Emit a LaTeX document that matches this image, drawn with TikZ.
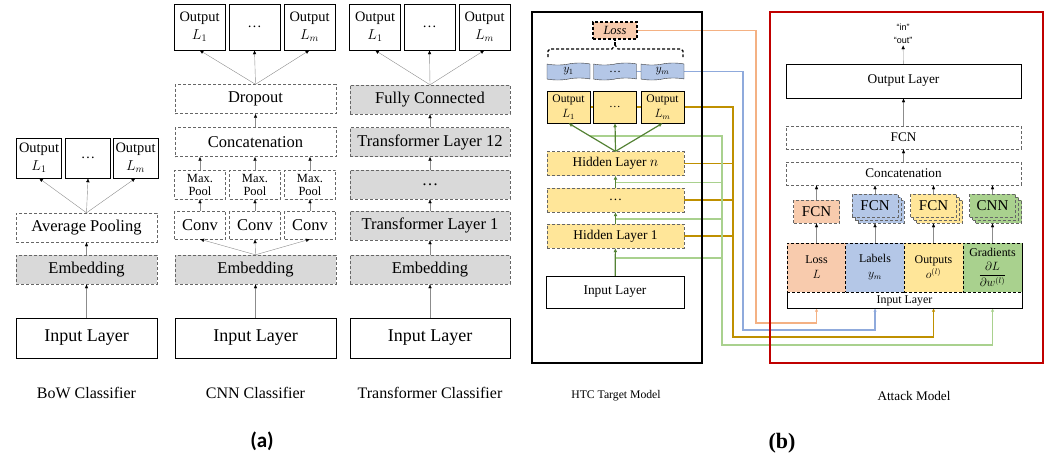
\documentclass[tikz,border=0pt]{standalone}
\usepackage{amsmath}
\usepackage{fontspec}
\setmainfont{Liberation Serif}
\setsansfont{Liberation Sans}
\newfontfamily\capfont{Carlito}
\usepackage{tikz}
\usetikzlibrary{positioning, arrows.meta, shapes.symbols, shadows, backgrounds}

\definecolor{lossbg}{HTML}{F8CBAD}
\definecolor{losscol}{HTML}{F4B183}
\definecolor{labbg}{HTML}{B4C7E7}
\definecolor{labcol}{HTML}{8FAADC}
\definecolor{outbg}{HTML}{FFE699}
\definecolor{outcol}{HTML}{BF9000}
\definecolor{gradbg}{HTML}{A9D18E}
\definecolor{gradcol}{HTML}{A9D18E}
\definecolor{fwdgreen}{HTML}{548235}
\definecolor{layergray}{HTML}{D9D9D9}
\definecolor{attred}{HTML}{C00000}

\tikzstyle{layer} = [rectangle, draw=black, fill=white, inner sep=1pt, align=center, font=\fontsize{16.5}{19}\selectfont]
\tikzstyle{dlayer} = [layer, draw=black!60, densely dashed]
\tikzstyle{glayer} = [dlayer, fill=layergray]
\tikzstyle{inlayer} = [layer, font=\fontsize{18}{20}\selectfont, minimum height=40pt]
\tikzstyle{outbox} = [layer, font=\fontsize{14.4}{18}\selectfont]
\tikzstyle{caption} = [font=\fontsize{16}{18}\selectfont]
\tikzstyle{bowsize} = [minimum width=141pt, minimum height=29pt]
\tikzstyle{bowoutsize} = [minimum width=45pt, minimum height=40pt]
\tikzstyle{cnnsize} = [minimum width=161pt, minimum height=29pt]
\tikzstyle{trsize} = [minimum width=160pt, minimum height=29pt]
\tikzstyle{coloutsize} = [minimum width=51pt, minimum height=46pt]
\tikzstyle{cnnsmall} = [minimum width=51pt, minimum height=28pt]
\tikzstyle{ybox} = [tape, tape bend top=in and out, tape bend bottom=in and out, tape bend height=2pt, draw=black!80, fill=labbg, minimum width=43pt, minimum height=17pt, inner sep=0pt, font=\fontsize{12}{14}\selectfont]
\tikzstyle{htcoutbox} = [layer, fill=outbg, minimum width=43pt, minimum height=32pt, font=\fontsize{11.6}{15}\selectfont]
\tikzstyle{hlayer} = [dlayer, fill=outbg, minimum width=137pt, minimum height=24pt, font=\fontsize{13.4}{15}\selectfont]
\tikzstyle{attlayer} = [dlayer, minimum width=235pt, minimum height=23pt, font=\fontsize{13.2}{15}\selectfont]
\tikzstyle{smallbox} = [dlayer, minimum width=46pt, minimum height=23pt, font=\fontsize{15}{17}\selectfont]
\tikzstyle{cell} = [rectangle, draw=black, densely dashed, line width=0.8pt, minimum width=59pt, minimum height=49pt, inner sep=0pt, align=center, font=\fontsize{11.9}{15}\selectfont]
\tikzstyle{arrow} = [draw=black!45, ->, >={Latex[length=4pt, width=3.5pt, color=black]}]
\tikzstyle{fwd} = [draw=fwdgreen, line width=1.2pt, ->, >={Latex[length=4pt, width=4pt]}]
\tikzstyle{tap} = [line width=1.7pt]
\tikzstyle{feed} = [tap, ->, >={Latex[length=3.5pt, width=3.5pt]}]
\tikzset{stackbox/.style={smallbox, fill=#1, double copy shadow={shadow xshift=3pt, shadow yshift=-3pt, fill=#1, draw=black!60, densely dashed}}}

\begin{document}
\begin{tikzpicture}[x=1pt, y=-1pt]
\useasboundingbox (0,0) rectangle (1048,459);

% BoW classifier
\node (bowout1) [outbox, bowoutsize] at (39,158) {Output\\$L_1$};
\node (bowout2) [outbox, bowoutsize] at (88,158) {\dots};
\node (bowout3) [outbox, bowoutsize] at (135.5,158) {Output\\$L_m$};
\node (bowpool) [dlayer, bowsize] at (86.5,227.5) {Average Pooling};
\node (bowemb) [glayer, bowsize] at (86.5,269.5) {Embedding};
\node (bowin) [inlayer, bowsize, minimum height=40pt] at (86.5,338) {Input Layer};
\node (bowcap) [caption] at (86.5,393) {BoW Classifier};

\draw [arrow] (bowin) -- (bowemb);
\draw [arrow] (bowemb) -- (bowpool);
\foreach \i in {1,2,3}
  \draw [arrow] (bowpool.north) -- (bowout\i.south);

% CNN classifier
\node (cnnout1) [outbox, coloutsize] at (199.5,27) {Output\\$L_1$};
\node (cnnout2) [outbox, coloutsize] at (254.5,27) {\dots};
\node (cnnout3) [outbox, coloutsize] at (309.5,27) {Output\\$L_m$};
\node (cnndrop) [dlayer, cnnsize] at (255.5,99) {Dropout};
\node (cnncat) [dlayer, cnnsize] at (255.5,142) {Concatenation};
\foreach \i/\x in {1/200,2/255,3/310} {
  \node (cnnpool\i) [dlayer, cnnsmall, minimum height=29pt, font=\fontsize{12.5}{13}\selectfont] at (\x,184.5) {Max.\\Pool};
  \node (cnnconv\i) [dlayer, cnnsmall] at (\x,225) {Conv};
}
\node (cnnemb) [glayer, cnnsize] at (255.5,269.5) {Embedding};
\node (cnnin) [inlayer, cnnsize, minimum height=40pt] at (255.5,338) {Input Layer};
\node (cnncap) [caption] at (255.5,393) {CNN Classifier};

\draw [arrow] (cnnin) -- (cnnemb);
\foreach \i in {1,2,3} {
  \draw [arrow] (cnnemb.north) -- (cnnconv\i.south);
  \draw [arrow] (cnnconv\i) -- (cnnpool\i);
  \draw [arrow] (cnnpool\i.north) -- (cnnpool\i.north |- cnncat.south);
  \draw [arrow] (cnndrop.north) -- (cnnout\i.south);
}
\draw [arrow] (cnncat) -- (cnndrop);

% Transformer classifier
\node (trout1) [outbox, coloutsize] at (375,27) {Output\\$L_1$};
\node (trout2) [outbox, coloutsize] at (429.5,27) {\dots};
\node (trout3) [outbox, coloutsize] at (484.5,27) {Output\\$L_m$};
\node (trfc) [glayer, trsize] at (430,99.5) {Fully Connected};
\node (trl12) [glayer, trsize] at (430,142) {Transformer Layer 12};
\node (trdots) [glayer, trsize] at (430,184.5) {\dots};
\node (trl1) [glayer, trsize] at (430,225.5) {Transformer Layer 1};
\node (tremb) [glayer, trsize] at (430,269.5) {Embedding};
\node (trin) [inlayer, trsize, minimum height=40pt] at (430,338) {Input Layer};
\node (trcap) [caption] at (430,393) {Transformer Classifier};

\draw [arrow] (trin) -- (tremb);
\draw [arrow] (tremb) -- (trl1);
\draw [arrow] (trl1) -- (trdots);
\draw [arrow] (trdots) -- (trl12);
\draw [arrow] (trl12) -- (trfc);
\foreach \i in {1,2,3}
  \draw [arrow] (trfc.north) -- (trout\i.south);

\node (capa) [font=\capfont\bfseries\fontsize{21}{24}\selectfont] at (262,441) {(a)};

% HTC target model
\node (htcloss) [rectangle, draw=black, densely dashed, line width=1.2pt, fill=lossbg, minimum width=44pt, minimum height=17pt, inner sep=0pt, font=\fontsize{12.5}{14}\selectfont\itshape] at (615,30.5) {Loss};
\node (htcy1) [ybox] at (568.5,71.5) {$y_1$};
\node (htcy2) [ybox] at (615,71.5) {\dots};
\node (htcy3) [ybox] at (662.5,71.5) {$y_m$};
\node (htcout1) [htcoutbox] at (568.5,107) {Output\\$L_1$};
\node (htcout2) [htcoutbox] at (615,107) {\dots};
\node (htcout3) [htcoutbox] at (662.5,107) {Output\\$L_m$};
\node (htchn) [hlayer] at (615.5,163.5) {Hidden Layer $n$};
\node (htcdots) [hlayer] at (615.5,200) {\dots};
\node (htch1) [hlayer] at (615.5,236) {Hidden Layer 1};
\node (htcin) [layer, minimum width=138pt, minimum height=32pt, font=\fontsize{13.4}{15}\selectfont] at (615,292) {Input Layer};
\node (htccap) [font=\fontsize{11.7}{14}\selectfont] at (616,396) {HTC Target Model};

\draw [densely dashed, line width=1.2pt] (548,57) -- (548,51) -- (550,49) -- (612,49) -- (615,45) -- (618,49) -- (681,49) -- (683,51) -- (683,57);
\draw [densely dashed, line width=1.2pt] (615,45) -- (htcloss.south);

\draw [fwd] (htcin) -- (htch1);
\draw [fwd] (htch1) -- (htcdots);
\draw [fwd] (htcdots) -- (htchn);
\foreach \i in {1,2,3}
  \draw [fwd] (htchn.north) -- (htcout\i.south);

% Attack model
\node (attres) [font=\sffamily\fontsize{9}{13.4}\selectfont, align=center, inner sep=1pt] at (903,34) {“in”\\“out”};
\node (attout) [layer, minimum width=235pt, minimum height=34pt, font=\fontsize{13.4}{15}\selectfont] at (903.5,81) {Output Layer};
\node (attfcn) [attlayer] at (903.5,137.5) {FCN};
\node (attcat) [attlayer] at (903.5,173.5) {Concatenation};
\node (attf1) [smallbox, fill=lossbg] at (816.5,211.5) {FCN};
\node (attf2) [stackbox=labbg] at (875,205.5) {FCN};
\node (attf3) [stackbox=outbg] at (933.5,205.5) {FCN};
\node (attcnn) [stackbox=gradbg] at (992.5,205.5) {CNN};
\node (attin) [layer, minimum width=235pt, minimum height=65pt] at (904.5,275.5) {};
\node (attintext) [font=\fontsize{11.9}{14}\selectfont, inner sep=1pt, above=1pt of attin.south] {Input Layer};
\node (attloss) [cell, fill=lossbg] at (816.5,267.5) {Loss\\$L$};
\node (attlab) [cell, fill=labbg] at (875,267.5) {Labels\\$y_m$};
\node (attouts) [cell, fill=outbg] at (933.5,267.5) {Outputs\\$o^{(l)}$};
\node (attgrad) [cell, fill=gradbg, font=\fontsize{11.9}{13}\selectfont] at (992.5,267.5) {Gradients\\[4pt]$\dfrac{\partial L}{\partial w^{(l)}}$};
\node (attcap) [font=\fontsize{13.2}{15}\selectfont] at (914,396) {Attack Model};

\draw [arrow] (attloss) -- (attf1);
\draw [arrow] (attlab) -- ([yshift=-6pt]attf2.south);
\draw [arrow] (attouts) -- ([yshift=-6pt]attf3.south);
\draw [arrow] (attgrad) -- ([yshift=-6pt]attcnn.south);
\foreach \b in {attf1, attf2, attf3, attcnn}
  \draw [arrow] (\b.north) -- (\b.north |- attcat.south);
\draw [arrow] (attcat) -- (attfcn);
\draw [arrow] (attfcn) -- (attout);
\draw [arrow] (attout) -- (attres);

\node (capb) [font=\bfseries\fontsize{22}{24}\selectfont] at (782,443) {(b)};

% links from target model to attack model
\coordinate (lossbus) at (756,323);
\coordinate (labbus) at (743,330);
\coordinate (outbus) at (733,337);
\coordinate (gradbus) at (722,345);
\coordinate (gtap1) at (590,136);
\coordinate (gtap2) at (615.5,182.5);
\coordinate (gtap3) at (615.5,219);
\coordinate (gtap4) at (615.5,258);
\begin{scope}[on background layer]
\draw [feed, draw=losscol] (htcloss.east) -| (lossbus) -| (attloss.south |- attin.south);
\draw [feed, draw=labcol] (htcy2.center) -| (labbus) -| (attlab.south |- attin.south);
\draw [feed, draw=outcol, line width=1.8pt] (htcout1.center) -| (outbus) -| (attouts.south |- attin.south);
\foreach \h in {htchn, htcdots, htch1}
  \draw [tap, draw=outcol, line width=1.8pt] (\h.east) -- (\h.east -| outbus);
\foreach \g in {gtap2, gtap3, gtap4}
  \draw [tap, draw=gradcol] (\g) -- (\g -| gradbus);
\draw [feed, draw=gradcol] (gtap1) -| (gradbus) -| (attgrad.south |- attin.south);
\end{scope}

\draw [line width=2.5pt] (532,12) rectangle (702,363);
\draw [line width=2.5pt, draw=attred] (770,12) rectangle (1043,363);

\end{tikzpicture}
\end{document}
